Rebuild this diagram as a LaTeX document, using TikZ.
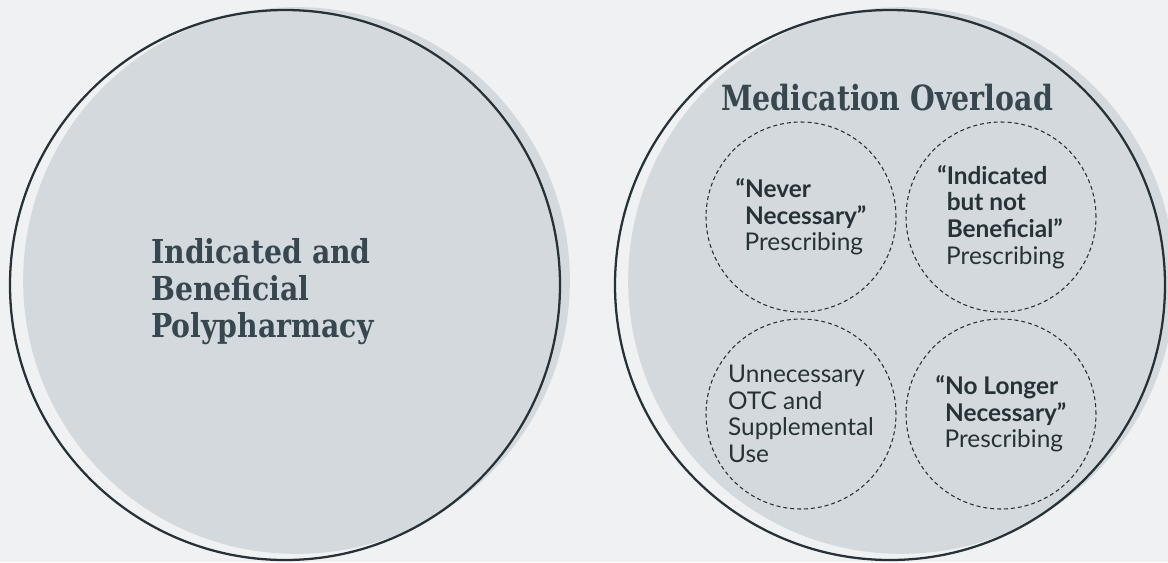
\documentclass[tikz,border=0pt]{standalone}
\usepackage{fontspec}
\usepackage{tikz}
\usetikzlibrary{positioning,calc}
\newfontfamily\latofont{Lato}
\newfontfamily\headfont[FakeStretch=0.86]{DejaVu Serif}
\newfontfamily\titlefont[FakeStretch=0.82]{DejaVu Serif}

\definecolor{bgcol}{HTML}{EFF1F3}
\definecolor{ballcol}{HTML}{D4D9DD}
\definecolor{inkcol}{HTML}{263238}
\definecolor{headcol}{HTML}{37474F}

\tikzset{
	ball/.style={circle, fill=ballcol, inner sep=0pt, minimum size=410pt},
	ring/.style={circle, draw=inkcol, line width=1.7pt, inner sep=0pt, minimum size=412.5pt},
	subring/.style={circle, draw=inkcol, line width=0.8pt, dash pattern=on 3pt off 2.2pt,
		inner sep=0pt, minimum size=142.5pt, align=left, text=inkcol,
		font=\latofont\fontsize{18.3}{20}\selectfont},
	headtext/.style={text=headcol, inner sep=0pt, align=left,
		font=\headfont\bfseries\fontsize{24.7}{27.75}\selectfont},
}
\newcommand{\hq}{\hphantom{“}}

\begin{document}
\begin{tikzpicture}[x=0.75pt,y=-0.75pt]
	\fill[bgcol] (0,0) rectangle (1168,562);
	\useasboundingbox (0,0) rectangle (1168,562);

	\node[ball] (IBfill) at (296.5,280.5) {};
	\node[ball] (MOfill) at (901.5,280.5) {};
	\node[ring] (IB) at (285,285) {};
	\node[ring] (MO) at (890,285) {};

	\node[headtext, anchor=north west] 
		  (IBlabel) at (151,238) {Indicated and\\Beneficial\\Polypharmacy};
	\node[headtext, anchor=base,
		  font=\titlefont\bfseries\fontsize{26}{30}\selectfont] 
		  (MOtitle) at (887,110) {Medication Overload};

	\node[subring] (NN) at (801,217) 
		  {\textbf{“Never}\\\textbf{\hq Necessary”}\\\hq Prescribing};
	\node[subring] (IN) at (1001,217) 
		  {\textbf{“Indicated}\\\textbf{\hq but not}\\\textbf{\hq Beneficial”}\\\hq Prescribing};
	\node[subring] (OTC) at (801,414) 
		  {Unnecessary\\OTC and\\Supplemental\\Use};
	\node[subring] (NL) at (1001,414) 
		  {\textbf{“No Longer}\\\textbf{\hq Necessary”}\\\hq Prescribing};
\end{tikzpicture}
\end{document}
